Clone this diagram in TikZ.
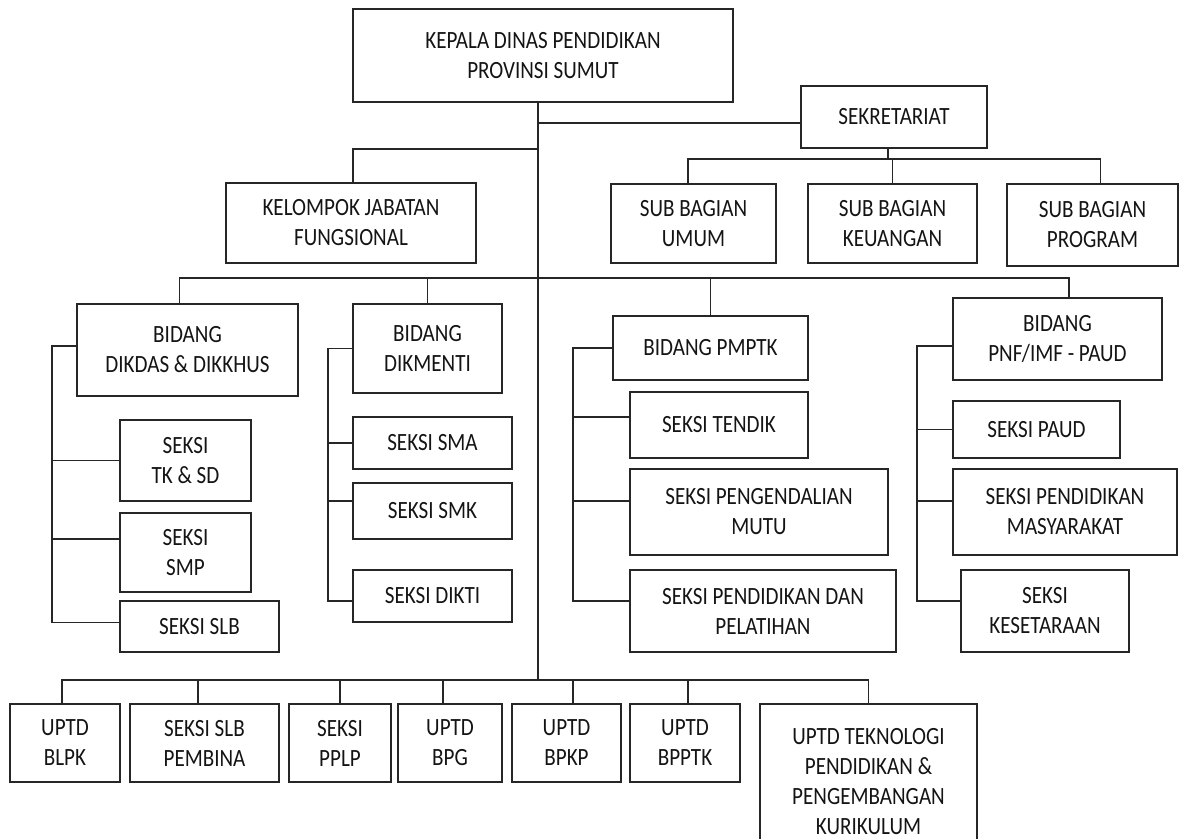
\documentclass[tikz,border=0pt]{standalone}
\usepackage{fontspec}
\setmainfont{Carlito}[FakeStretch=0.85]
\definecolor{Line}{HTML}{262626}
\definecolor{Ink}{HTML}{141414}

\begin{document}
\begin{tikzpicture}[x=0.75pt, y=-0.75pt,
                    box/.style = { draw=Line, line width=1.4pt, inner sep=2pt, outer sep=0pt, align=center,
                                   text=Ink, font=\fontsize{18.6pt}{22.5pt}\selectfont },
                    boxsize/.style 2 args = { minimum width=#1*0.75pt, minimum height=#2*0.75pt },
                    link/.style = { draw=Line, line width=1.4pt }]
  \useasboundingbox (0,0) rectangle (1179,839);
  \clip (0,0) rectangle (1179,839);

  % pimpinan dan sekretariat
  \node[box, boxsize={380}{93}] (kadis)    at (543,55.5)  {KEPALA DINAS PENDIDIKAN\\PROVINSI SUMUT};
  \node[box, boxsize={186}{62}] (sekre)    at (894,117)   {SEKRETARIAT};
  \node[box, boxsize={250}{80}] (jabfung)  at (351,223)   {KELOMPOK JABATAN\\FUNGSIONAL};
  \node[box, boxsize={165}{79}] (umum)     at (693.5,223.5) {SUB BAGIAN\\UMUM};
  \node[box, boxsize={169}{79}] (keuangan) at (892.5,223.5) {SUB BAGIAN\\KEUANGAN};
  \node[box, boxsize={171}{82}] (program)  at (1092.5,225)  {SUB BAGIAN\\PROGRAM};

  % bidang
  \node[box, boxsize={221}{92}] (dikdas)   at (187.5,350) {BIDANG\\DIKDAS \& DIKKHUS};
  \node[box, boxsize={149}{89}] (dikmenti) at (427.5,348.5) {BIDANG\\DIKMENTI};
  \node[box, boxsize={195}{64}] (pmptk)    at (710.5,348) {BIDANG PMPTK};
  \node[box, boxsize={209}{82}] (pnf)      at (1057.5,339) {BIDANG\\PNF/IMF - PAUD};

  % seksi
  \node[box, boxsize={131}{81}] (tksd)  at (185.5,460.5) {SEKSI\\TK \& SD};
  \node[box, boxsize={131}{79}] (smp)   at (185.5,552.5) {SEKSI\\SMP};
  \node[box, boxsize={159}{51}] (slb)   at (199.5,626.5) {SEKSI SLB};
  \node[box, boxsize={159}{52}] (sma)   at (432.5,443)   {SEKSI SMA};
  \node[box, boxsize={159}{56}] (smk)   at (432.5,511)   {SEKSI SMK};
  \node[box, boxsize={159}{52}] (dikti) at (432.5,596)   {SEKSI DIKTI};
  \node[box, boxsize={178}{66}] (tendik) at (719,425)    {SEKSI TENDIK};
  \node[box, boxsize={258}{86}] (mutu)   at (759,512)    {SEKSI PENGENDALIAN\\MUTU};
  \node[box, boxsize={266}{82}] (diklat) at (763,611)    {SEKSI PENDIDIKAN DAN\\PELATIHAN};
  \node[box, boxsize={167}{57}] (paud)   at (1036.5,429.5) {SEKSI PAUD};
  \node[box, boxsize={224}{86}] (masy)   at (1065,512)   {SEKSI PENDIDIKAN\\MASYARAKAT};
  \node[box, boxsize={168}{82}] (setara) at (1045,611)   {SEKSI\\KESETARAAN};

  % uptd
  \node[box, boxsize={110}{78}] (blpk)    at (65,743)    {UPTD\\BLPK};
  \node[box, boxsize={149}{78}] (slbpemb) at (204.5,743) {SEKSI SLB\\PEMBINA};
  \node[box, boxsize={102}{78}] (pplp)    at (340,743)   {SEKSI\\PPLP};
  \node[box, boxsize={104}{78}] (bpg)     at (450,743)   {UPTD\\BPG};
  \node[box, boxsize={109}{78}] (bpkp)    at (566.5,743) {UPTD\\BPKP};
  \node[box, boxsize={110}{78}] (bpptk)   at (685,743)   {UPTD\\BPPTK};
  \node[box, boxsize={217}{156}] (tekno)  at (868.5,782) {UPTD TEKNOLOGI\\PENDIDIKAN \&\\PENGEMBANGAN\\KURIKULUM};

  \coordinate (trunk)   at (538,680);
  \coordinate (busjf)   at (0,149);
  \coordinate (bussek)  at (0,159);
  \coordinate (busbid)  at (0,278);
  \coordinate (busupt)  at (0,680);
  \coordinate (sideA)   at (52,0);
  \coordinate (sideB)   at (328,0);
  \coordinate (sideC)   at (573,0);
  \coordinate (sideD)   at (917,0);

  \draw[link] (kadis.south -| trunk) -- (trunk);
  \draw[link] ([yshift=-4.5pt]sekre.west) -- ([yshift=-4.5pt]sekre.west -| trunk);
  \draw[link] ([xshift=1.5pt]jabfung.north) |- (trunk |- busjf);
  \draw[link] ([xshift=-4.5pt]sekre.south) -- ([xshift=-4.5pt]sekre.south |- bussek);
  \draw[link] ([xshift=-4pt]umum.north) |- ([xshift=6pt]program.north |- bussek) -- ([xshift=6pt]program.north);
  \draw[link] (keuangan.north) -- (keuangan.north |- bussek);

  \draw[link] ([xshift=-6pt]dikdas.north) |- ([xshift=8.6pt]pnf.north |- busbid) -- ([xshift=8.6pt]pnf.north);
  \draw[link] (dikmenti.north) -- (dikmenti.north |- busbid);
  \draw[link] (pmptk.north) -- (pmptk.north |- busbid);

  \draw[link] ([yshift=3pt]dikdas.west) -| ([yshift=3pt]sideA |- slb.west) -- ([yshift=3pt]slb.west);
  \draw[link] (sideA |- tksd.west) -- (tksd.west);
  \draw[link] ([yshift=10pt]sideA |- smp.west) -- ([yshift=10pt]smp.west);

  \draw[link] (dikmenti.west) -| ([yshift=-4pt]sideB |- dikti.west) -- ([yshift=-4pt]dikti.west);
  \draw[link] (sideB |- sma.west) -- (sma.west);
  \draw[link] ([yshift=7.5pt]sideB |- smk.west) -- ([yshift=7.5pt]smk.west);

  \draw[link] (pmptk.west) -| ([yshift=7.5pt]sideC |- diklat.west) -- ([yshift=7.5pt]diklat.west);
  \draw[link] ([yshift=6pt]sideC |- tendik.west) -- ([yshift=6pt]tendik.west);
  \draw[link] ([yshift=8pt]sideC |- mutu.west) -- ([yshift=8pt]mutu.west);

  \draw[link] ([yshift=-5pt]pnf.west) -| ([yshift=7.5pt]sideD |- setara.west) -- ([yshift=7.5pt]setara.west);
  \draw[link] (sideD |- paud.west) -- (paud.west);
  \draw[link] ([yshift=8pt]sideD |- masy.west) -- ([yshift=8pt]masy.west);

  \draw[link] ([xshift=-2pt]blpk.north) |- (tekno.north |- busupt) -- (tekno.north);
  \draw[link] ([xshift=-5pt]slbpemb.north) -- ([xshift=-5pt]slbpemb.north |- busupt);
  \draw[link] (pplp.north) -- (pplp.north |- busupt);
  \draw[link] ([xshift=-5pt]bpg.north) -- ([xshift=-5pt]bpg.north |- busupt);
  \draw[link] ([xshift=5pt]bpkp.north) -- ([xshift=5pt]bpkp.north |- busupt);
  \draw[link] ([xshift=2pt]bpptk.north) -- ([xshift=2pt]bpptk.north |- busupt);
\end{tikzpicture}
\end{document}
